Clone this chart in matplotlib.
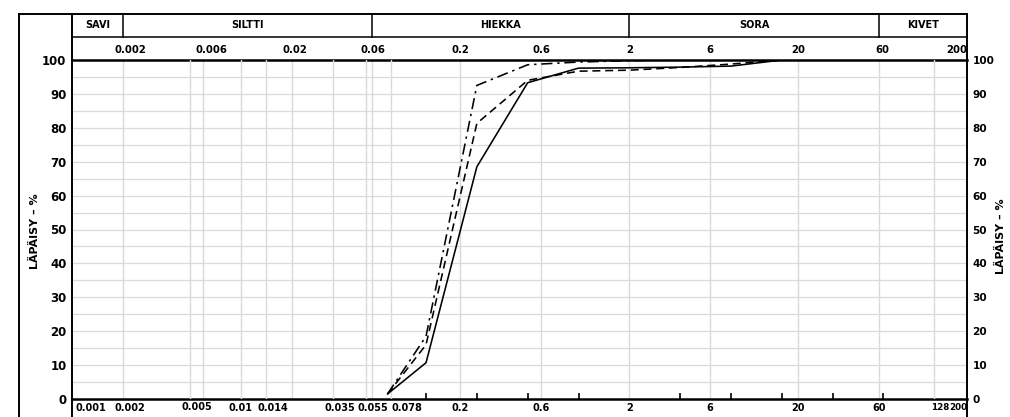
import matplotlib.pyplot as plt
from matplotlib.lines import Line2D
from matplotlib.ticker import NullFormatter
from matplotlib.transforms import blended_transform_factory

plt.rcParams['font.family'] = ['DejaVu Sans']
plt.rcParams['font.weight'] = 'bold'

# grain size (mm) / passing (%)
size_a = [0.074, 0.125, 0.25, 0.5, 1, 2, 4, 8, 16]
pass_a = [1.5, 10.7, 68.5, 93.3, 97.6, 97.7, 97.9, 98.2, 100]
size_b = [0.074, 0.125, 0.25, 0.5, 1, 2, 4, 8, 16]
pass_b = [1.5, 16.0, 81.3, 94.0, 96.7, 97.0, 97.8, 98.8, 100]
size_c = [0.074, 0.125, 0.25, 0.5, 1, 2, 4]
pass_c = [1.5, 18.5, 92.5, 98.6, 99.4, 99.8, 100]

soil_names = ['SAVI', 'SILTTI', 'HIEKKA', 'SORA', 'KIVET']
soil_limits = [0.001, 0.002, 0.06, 2, 60, 200]

top_ticks = [0.002, 0.006, 0.02, 0.06, 0.2, 0.6, 2, 6, 20, 60, 200]
top_labels = ['0.002', '0.006', '0.02', '0.06', '0.2', '0.6', '2', '6', '20', '60', '200']
bottom_ticks = [0.001, 0.002, 0.005, 0.01, 0.014, 0.035, 0.055, 0.078,
                0.2, 0.6, 2, 6, 20, 60, 128, 200]
bottom_labels = ['0.001', '0.002', '0.005', '0.01', '0.014', '0.035', '0.055', '0.078',
                 '0.2', '0.6', '2', '6', '20', '60', '128', '200']
sieve_ticks = [0.125, 0.25, 0.5, 1, 4, 8, 16, 32, 64]
grid_x = [0.002, 0.005, 0.006, 0.01, 0.014, 0.02, 0.035, 0.055, 0.06, 0.078,
          0.2, 0.6, 2, 6, 20, 60, 128]
y_ticks = [0, 10, 20, 30, 40, 50, 60, 70, 80, 90, 100]
y_grid = [5, 10, 15, 20, 25, 30, 35, 40, 45, 50, 55, 60, 65, 70, 75, 80, 85, 90, 95]

# label nudges in pixels
top_nudge = {'0.002': 8, '0.006': 8, '0.02': 3, '0.06': 1, '60': 4}
bottom_nudge = {'0.002': 7, '0.005': 7, '0.014': 7, '0.035': 7, '0.055': 7, '0.078': 15}

W, H = 1010, 417
fig = plt.figure(figsize=(W / 100, H / 100), dpi=100)
ax = fig.add_axes([72 / W, 18 / H, 895 / W, 339 / H])
ax.set_xscale('log')
ax.set_xlim(0.001, 200)
ax.set_ylim(0, 100)

gc = '#dadada'
for v in y_grid:
    ax.axhline(v, color=gc, lw=0.9, zorder=1)
for v in grid_x:
    z = 1 if v in top_ticks else 3
    ax.axvline(v, color=gc, lw=1.0, zorder=z)

ax.plot(size_a, pass_a, color='k', lw=1.15, zorder=4)
ax.plot(size_b, pass_b, color='k', lw=1.15, ls=(0, (5, 3)), zorder=4)
ax.plot(size_c, pass_c, color='k', lw=1.15, ls=(0, (7, 3, 1.5, 3)), zorder=4)

for s in ['left', 'right']:
    ax.spines[s].set_visible(False)
for s in ['top', 'bottom']:
    ax.spines[s].set_linewidth(1.8)
    ax.spines[s].set_zorder(2.5)

ax.set_xticks([])
ax.set_xticks(sieve_ticks, minor=True)
ax.xaxis.set_minor_formatter(NullFormatter())
ax.tick_params(axis='x', which='minor', direction='in', length=4, width=1.2, top=False)

ax.set_yticks(y_ticks)
ax.tick_params(axis='y', length=0, pad=4, labelsize=8.5, labelright=True)
for t in ax.yaxis.get_major_ticks():
    t.label2.set_fontsize(7.6)

# frame lines
fl = dict(color='k', lw=1.4, transform=fig.transFigure)
top_y = 1 - 14 / H
for xp in [19, 72, 967]:
    fig.add_artist(Line2D([xp / W, xp / W], [0, top_y], **fl))
fig.add_artist(Line2D([19 / W, 967 / W], [top_y, top_y], **fl))
fig.add_artist(Line2D([72 / W, 967 / W], [1 - 37 / H, 1 - 37 / H], color='k', lw=1.1,
                      transform=fig.transFigure))

bt = blended_transform_factory(ax.transData, fig.transFigure)
for v in soil_limits[1:-1]:
    fig.add_artist(Line2D([v, v], [1 - 37 / H, top_y], color='k', lw=1.1, transform=bt))
for i, name in enumerate(soil_names):
    mid = (soil_limits[i] * soil_limits[i + 1]) ** 0.5
    fig.text(mid, 1 - 25.5 / H, name, transform=bt, ha='center', va='center', fontsize=7)

for v, lab in zip(top_ticks, top_labels):
    ha = 'right' if lab == '200' else 'center'
    dx = top_nudge.get(lab, 0) * 0.72
    ax.annotate(lab, xy=(v, 1), xycoords=('data', 'axes fraction'),
                xytext=(dx, 10 * 0.72), textcoords='offset points',
                ha=ha, va='center', fontsize=7.3)

for v, lab in zip(bottom_ticks, bottom_labels):
    if lab == '0.001':
        ha, dx = 'left', 3
    elif lab == '200':
        ha, dx = 'right', 0
    elif lab == '128':
        ha, dx = 'right', 15
    else:
        ha, dx = 'center', bottom_nudge.get(lab, 0)
    dy = -7.5 if lab == '0.005' else -9
    fs = 6.3 if lab in ('128', '200') else 7
    ax.annotate(lab, xy=(v, 0), xycoords=('data', 'axes fraction'),
                xytext=(dx * 0.72, dy * 0.72), textcoords='offset points',
                ha=ha, va='center', fontsize=fs)

fig.text(35 / W, 1 - 231 / H, 'LÄPÄISY – %', rotation=90, ha='center', va='center', fontsize=8)
fig.text(1001 / W, 1 - 236 / H, 'LÄPÄISY – %', rotation=90, ha='center', va='center', fontsize=8)

fig.savefig('out.png', dpi=100)
